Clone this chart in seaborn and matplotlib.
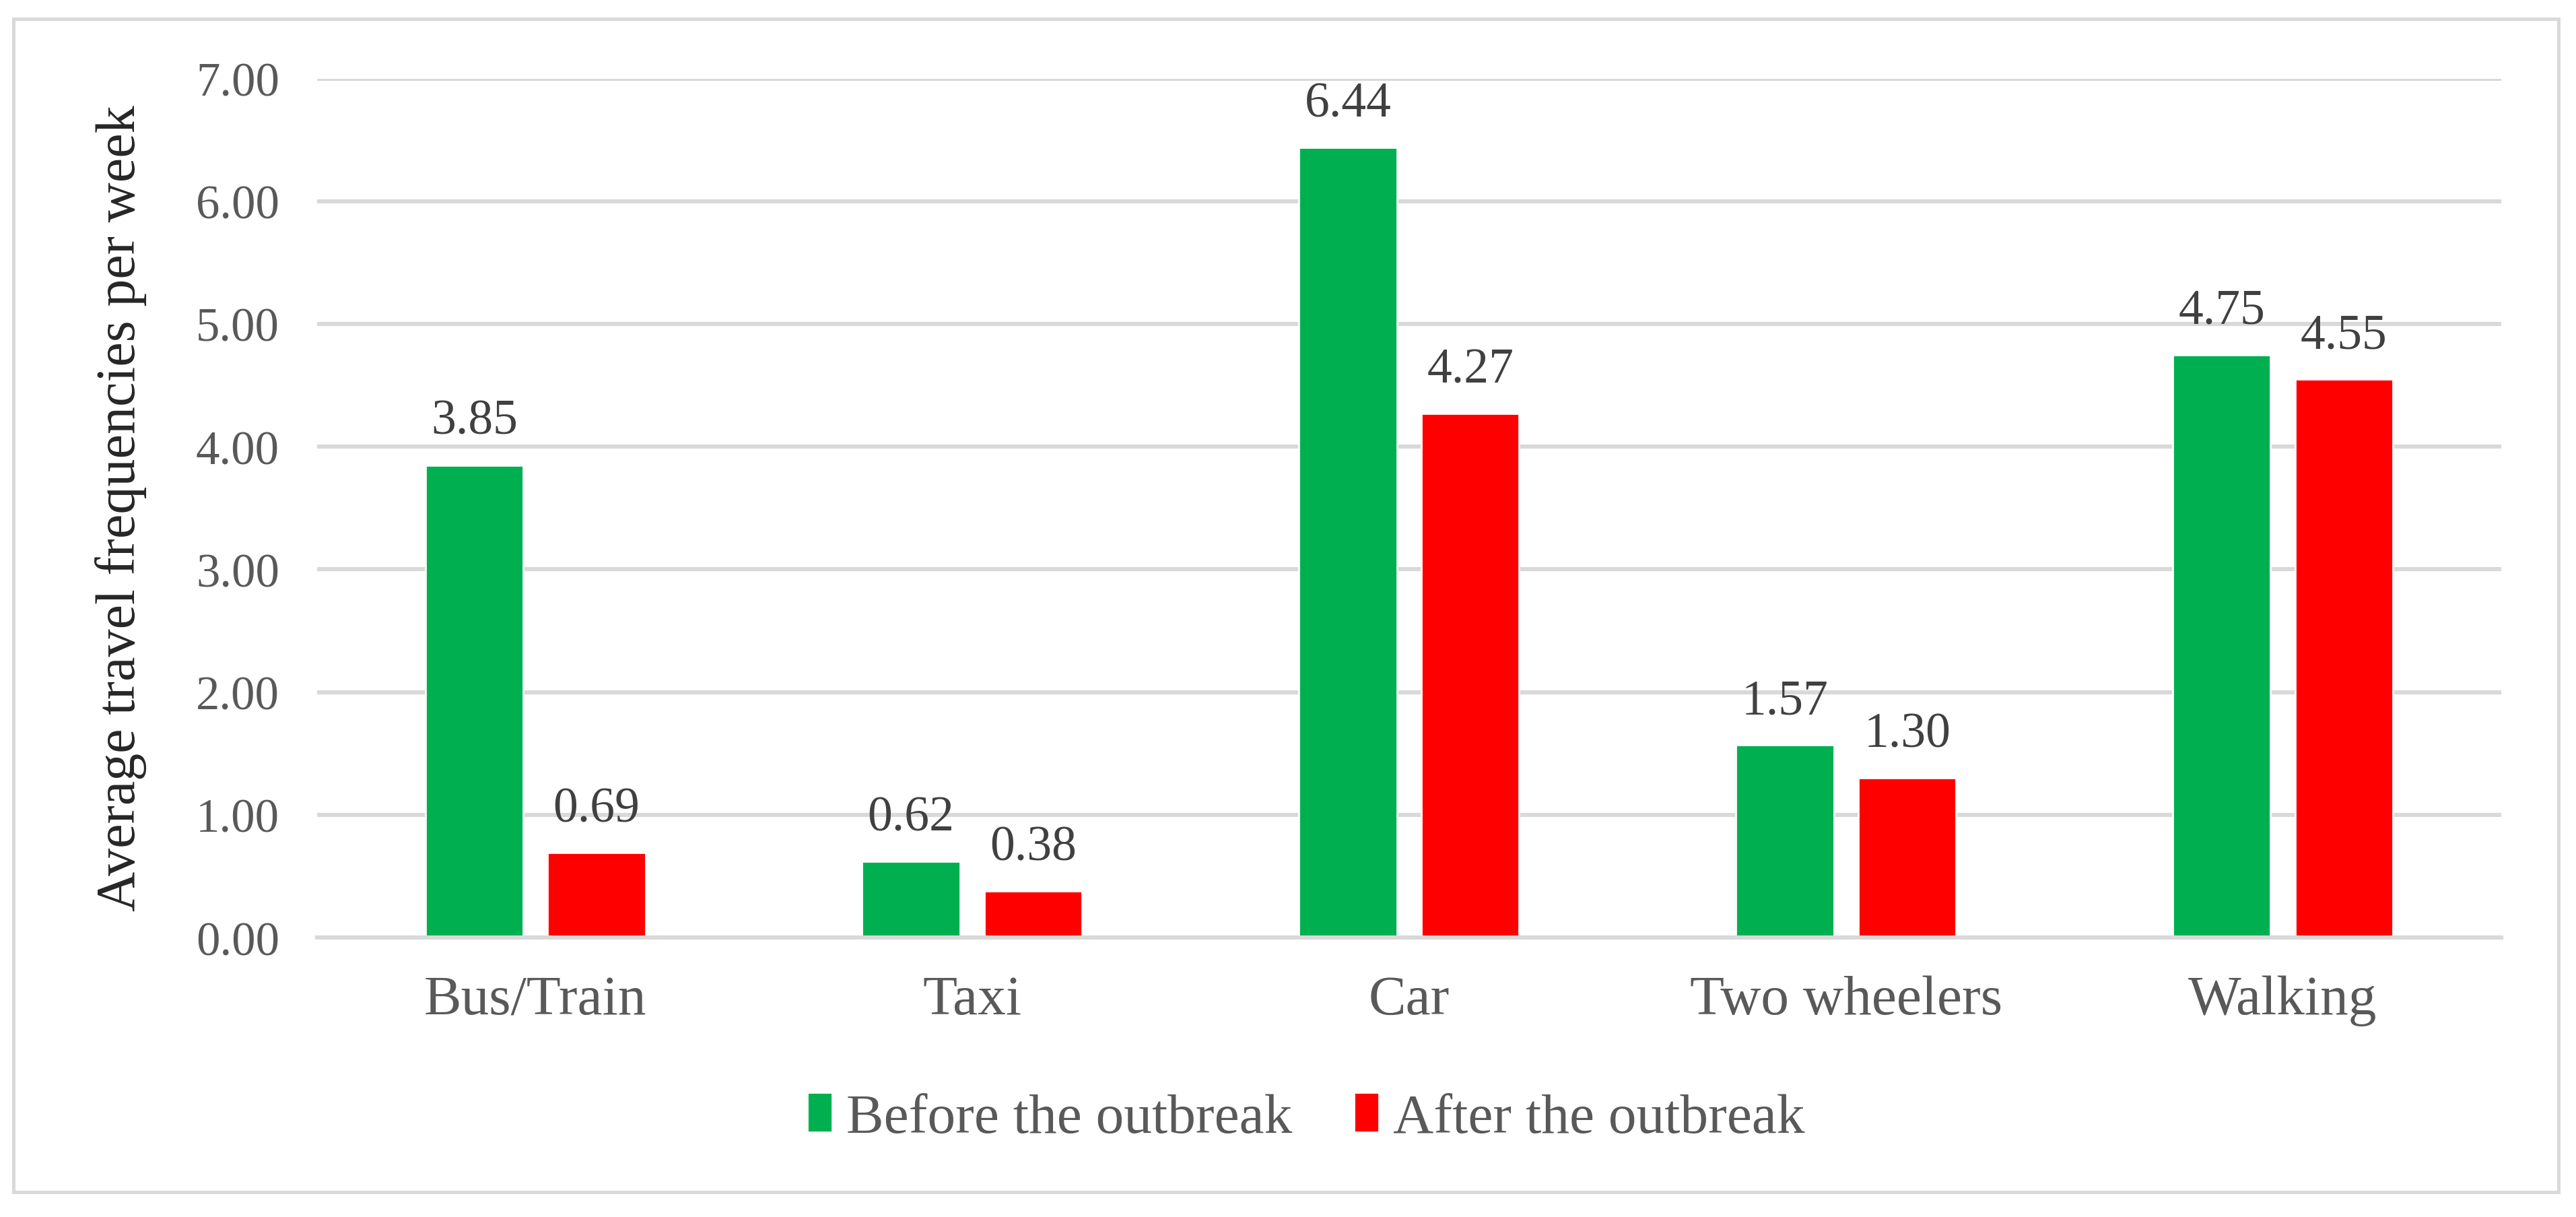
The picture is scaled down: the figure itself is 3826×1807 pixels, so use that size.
import matplotlib
matplotlib.use("Agg")
import matplotlib.pyplot as plt
import numpy as np
import pandas as pd
import seaborn as sns
from matplotlib.patches import Rectangle

modes = ["Bus/Train", "Taxi", "Car", "Two wheelers", "Walking"]
before = [3.85, 0.62, 6.44, 1.57, 4.75]
after = [0.69, 0.38, 4.27, 1.30, 4.55]
periods = ["Before the outbreak", "After the outbreak"]
yticks = [0, 1, 2, 3, 4, 5, 6, 7]

df = pd.DataFrame({
    "mode": modes * 2,
    "value": before + after,
    "period": [periods[0]] * len(modes) + [periods[1]] * len(modes),
})

sns.set_theme(style="white")
plt.rcParams['font.family'] = ['Liberation Serif', 'DejaVu Serif']

fig = plt.figure(figsize=(19.13, 9.04), dpi=200)
ax = fig.add_axes([0.123, 0.2295, 0.848, 0.7055])

sns.barplot(data=df, x="mode", y="value", hue="period", order=modes,
            hue_order=periods, palette=["#00B050", "#FF0000"],
            width=0.56, gap=0.2, ax=ax, saturation=1, legend=True)

for c in ax.containers:
    ax.bar_label(c, fmt="%.2f", padding=11, fontsize=26.5, color="#404040")

ax.set_ylim(0, 7)
ax.set_xlim(-0.5, 4.5)
ax.set_yticks(yticks)
ax.set_yticklabels([f"{v:.2f}" for v in yticks])
ax.yaxis.grid(True, color="#D9D9D9", linewidth=2.2)
ax.set_axisbelow(True)
for s in ["top", "right", "left"]:
    ax.spines[s].set_visible(False)
ax.spines["bottom"].set_color("#D9D9D9")
ax.spines["bottom"].set_linewidth(2.2)
ax.tick_params(axis="y", length=0, pad=20, labelsize=25.5, labelcolor="#595959")
ax.tick_params(axis="x", length=0, pad=20, labelsize=30, labelcolor="#595959")
ax.set_xlabel("")
ax.set_ylabel("")
fig.text(0.047, 0.5825, "Average travel frequencies per week", rotation=90,
         ha="center", va="center", fontsize=29.5, color="#262626")

handles, labels = ax.get_legend_handles_labels()
ax.legend_.remove()
fig.legend(handles, labels, loc="center", bbox_to_anchor=(0.507, 0.081),
           ncol=2, frameon=False, fontsize=30, labelcolor="#595959",
           handlelength=0.45, handleheight=0.7, handletextpad=0.25,
           columnspacing=1.1)

fig.patches.append(Rectangle((0.0052, 0.0205), 0.9880, 0.9635, transform=fig.transFigure,
                             fill=False, edgecolor="#D9D9D9", linewidth=1.8))

fig.savefig("out.png", dpi=200, facecolor="white")
